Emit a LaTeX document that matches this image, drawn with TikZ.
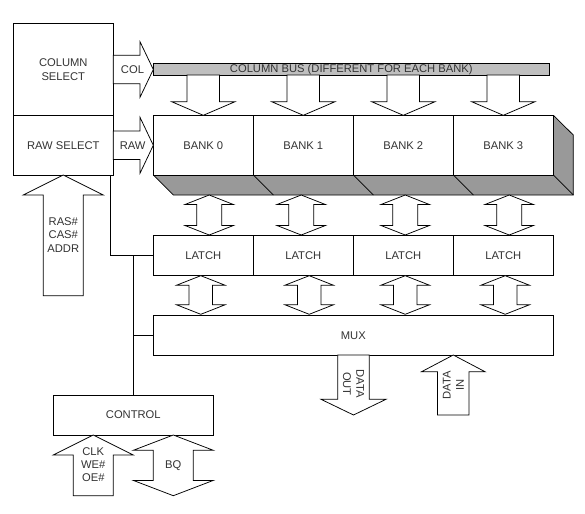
\documentclass[tikz,border=0pt]{standalone}
\usepackage{fontspec}
\setmainfont{Liberation Sans}

% x, y = tip or end positions; hh = half head, hs = half shaft, hl = head length
\newcommand{\vblock}[6]{%
  \draw[blockarrow] (#1,#2) -- ({#1+#4},{#2+(#6)}) -- ({#1+#5},{#2+(#6)}) -- ({#1+#5},#3)
    -- ({#1-#5},#3) -- ({#1-#5},{#2+(#6)}) -- ({#1-#4},{#2+(#6)}) -- cycle;}
\newcommand{\hblock}[6]{%
  \draw[blockarrow] (#1,#3) -- ({#1-(#6)},{#3-#4}) -- ({#1-(#6)},{#3-#5}) -- (#2,{#3-#5})
    -- (#2,{#3+#5}) -- ({#1-(#6)},{#3+#5}) -- ({#1-(#6)},{#3+#4}) -- cycle;}
\newcommand{\dblock}[6]{%
  \draw[blockarrow] (#1,#2) -- ({#1+#4},{#2+#6}) -- ({#1+#5},{#2+#6}) -- ({#1+#5},{#3-#6})
    -- ({#1+#4},{#3-#6}) -- (#1,#3) -- ({#1-#4},{#3-#6}) -- ({#1-#5},{#3-#6})
    -- ({#1-#5},{#2+#6}) -- ({#1-#4},{#2+#6}) -- cycle;}

\begin{document}
\begin{tikzpicture}[x=1pt, y=-1pt, line width=0.75pt,
  every node/.style={font=\fontsize{11.2}{13.3}\selectfont, text=black!80},
  box/.style={draw, rectangle, inner sep=0pt, outer sep=0pt, align=center, text=black!80},
  blockarrow/.style={draw, fill=white, line join=miter},
  lbl/.style={align=center, inner sep=0pt}]
  \useasboundingbox (0,0) rectangle (585,513);

  % Select blocks
  \node[box, minimum width=100pt, minimum height=92.4pt] at (63.3,69.5) (colsel) {COLUMN\\SELECT};
  \node[box, minimum width=100pt, minimum height=59.3pt] at (63.3,145.35) (rawsel) {RAW SELECT};

  % Column bus
  \node[box, fill=black!25, minimum width=396pt, minimum height=11.7pt] at (351.3,69.2) (colbus) {COLUMN BUS (DIFFERENT FOR EACH BANK)};

  % Banks with shaded depth
  \fill[black!40] (153.3,175) -- (173.3,195) -- (573.3,195) -- (573.3,135) -- (553.3,115.3) -- (553.3,175) -- cycle;
  \draw (153.3,175) -- (173.3,195) -- (573.3,195) -- (573.3,135) -- (553.3,115.3);
  \foreach \i in {0,...,3}
    \node[box, minimum width=100pt, minimum height=59.7pt] at ({203.3+100*\i},145.15) (bank\i) {BANK \i};
  \foreach \i in {0,...,3}
    \draw (bank\i.south east) -- ++(20,20);

  % Latches and mux
  \foreach \i in {0,...,3}
    \node[box, minimum width=100pt, minimum height=39.3pt] at ({203.3+100*\i},255.35) (latch\i) {LATCH};
  \node[box, minimum width=400pt, minimum height=39.3pt] at (353.3,335.35) (mux) {MUX};

  % Control
  \node[box, minimum width=160pt, minimum height=40pt] at (133.3,415) (control) {CONTROL};

  % Lines
  \draw ([xshift=-3.3pt]rawsel.south east) |- (latch0.west);
  \draw (control.north) -- (control.north |- latch0.west);
  \draw (control.north) |- (mux.west);

  % Block arrows
  \hblock{153.3}{113.3}{69.5}{27.8}{14.2}{13.3}
  \hblock{153.3}{113.3}{145.3}{28}{14.2}{13.3}
  \node[lbl] at (132.5,69.5) (col) {COL};
  \node[lbl] at (132.7,145.3) (raw) {RAW};
  \foreach \x in {203.3,303.3,403.3,503.3}
    {\vblock{\x}{115.3}{75}{31.7}{16.2}{-13.6}}
  \foreach \x in {209.2,301.2,405.2,509.2}
    {\dblock{\x}{195}{235}{24.2}{12.5}{9.5}}
  \foreach \x in {200.8,309.2,405.2,505.2}
    {\dblock{\x}{275.7}{314.3}{24.2}{11.7}{9.5}}

  \vblock{63.3}{175}{295.7}{40}{20}{20}
  \node[lbl] at (63.3,235) (addr) {RAS\#\\CAS\#\\ADDR};
  \vblock{93.3}{435}{495.7}{40}{20}{20}
  \node[lbl] at (93.3,464.7) (clk) {CLK\\WE\#\\OE\#};
  \dblock{173.3}{435}{495.7}{40}{20}{15.3}
  \node[lbl] at (173.3,465.3) (bq) {BQ};

  \vblock{353.5}{415}{355}{32.5}{15.8}{-15.7}
  \node[lbl, rotate=-90] at (353.5,384) (dout) {DATA\\OUT};
  \vblock{453.3}{355}{415}{31.7}{15.8}{16.7}
  \node[lbl, rotate=90] at (453.3,385) (din) {DATA\\IN};
\end{tikzpicture}
\end{document}
